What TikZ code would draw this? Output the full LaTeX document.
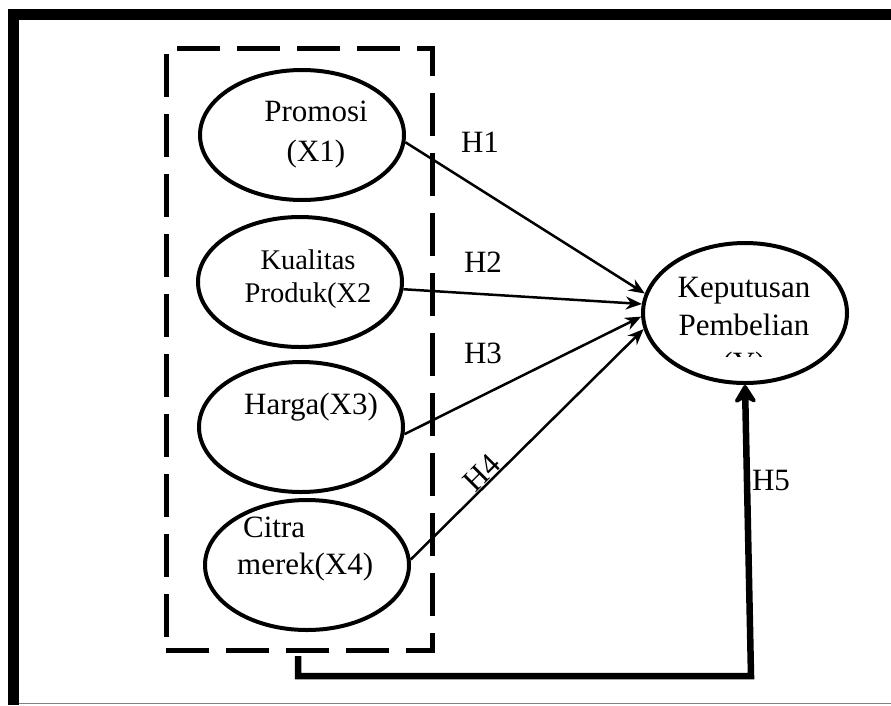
\documentclass[tikz,border=0pt]{standalone}
\usepackage{fontspec}
\setmainfont{Liberation Serif}
\usetikzlibrary{shapes.geometric,arrows.meta}
\begin{document}
\begin{tikzpicture}[x=1pt,y=-1pt,
  oval/.style={draw,ellipse,line width=4pt,inner sep=0pt,minimum width=204pt,minimum height=130pt},
  lbl/.style={font=\fontsize{31}{40}\selectfont,inner sep=0pt},
  small/.style={font=\fontsize{28.5}{33}\selectfont,inner sep=0pt},
  harrow/.style={line width=2.5pt,-{Stealth[length=16pt,width=13pt]}},
  bigarrow/.style={line width=6.5pt,-{Stealth[length=22pt,width=27pt,round]}},
  dashbox/.style={draw,line width=5pt,dash pattern=on 43pt off 17pt,minimum width=266pt,minimum height=602pt,inner sep=0pt},
]
\useasboundingbox (0,0) rectangle (891,705);
% outer frame
\fill (8,9) rectangle (891,20);
\fill (8,9) rectangle (19,705);
\draw[gray,line width=1.5pt] (19,703.5) -- (891,703.5);

% dashed group box
\node[dashbox] (box) at (299,349) {};

% ellipses
\node[oval] (p) at (302,135) {};
\node[oval] (q) at (300,282) {};
\node[oval] (r) at (301,427) {};
\node[oval] (c) at (307,565) {};
\node[oval,minimum height=140pt] (k) at (745,313) {};

% texts
\node[lbl,align=center] (pt) at (316,135) {Promosi\\(X1)};
\node[small,align=center] (qt) at (308,279) {Kualitas\\Produk(X2};
\node[lbl] (rt) at (311,407) {Harga(X3)};
\node[lbl,align=left,anchor=west,font=\fontsize{31}{37}\selectfont] (ct) at (237,549) {\hspace*{6pt}Citra\\merek(X4)};
\node[lbl,align=center,font=\fontsize{31}{38}\selectfont] (kt) at (744,306) {Keputusan\\Pembelian};
\begin{scope}
\clip (690,340) rectangle (800,356);
\node[lbl] (ky) at (744,366) {(Y)};
\end{scope}

% arrows
\draw[harrow] (p.-4) -- (k.169);
\draw[harrow] (q.-4) -- (k.175.5);
\draw[harrow] (r.-4) -- (k.182);
\draw[harrow] (c.3) -- (k.189.5);

% H5 connector
\coordinate (s) at (298,656);
\coordinate (bend) at (751,676);
\draw[bigarrow] (s) |- (bend) -- (k.south);

% labels
\node[lbl] (h1) at (480,142) {H1};
\node[lbl] (h2) at (483,262) {H2};
\node[lbl] (h3) at (483,353) {H3};
\node[lbl,rotate=45] (h4) at (482,473) {H4};
\node[lbl] (h5) at (771,480) {H5};
\end{tikzpicture}
\end{document}
